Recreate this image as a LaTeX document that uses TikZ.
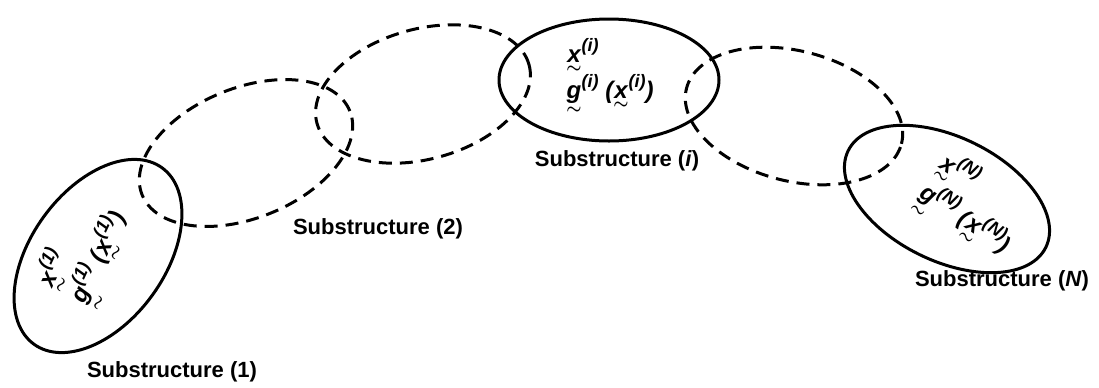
\documentclass[tikz,border=0pt]{standalone}
\usepackage{amsmath}
\usepackage{fontspec}
\setmainfont{Liberation Sans}
\usetikzlibrary{shapes.geometric}

% letter with a small tilde right under it
\newcommand{\ut}[1]{\leavevmode\vtop{\offinterlineskip\halign{\hfil##\hfil\cr #1\cr
    \noalign{\kern2pt}\hbox{$\scriptstyle\boldsymbol{\sim}$}\cr}}}
\newcommand{\up}[1]{\raisebox{0.45em}{\fontsize{9}{9}\selectfont(#1)}}

\begin{document}
\begin{tikzpicture}[
    x=0.5pt,y=-0.5pt,
    ring/.style={ellipse,draw,line width=1.5pt,inner sep=0pt,outer sep=0pt},
    dashring/.style={ring,dash pattern=on 6.5pt off 4pt},
    tag/.style={font=\fontsize{11}{13}\selectfont\bfseries},
    formula/.style={font=\fontsize{12}{17}\selectfont\bfseries\itshape,align=left,inner sep=0pt}
  ]
  \useasboundingbox (0,0) rectangle (1099,387);

  % the chain of substructures
  \node[ring,minimum width=109pt,minimum height=67pt,rotate=54]       (sub1) at (98,256)  {};
  \node[dashring,minimum width=112pt,minimum height=65pt,rotate=22]   (sub2) at (246,153) {};
  \node[dashring,minimum width=110pt,minimum height=65pt,rotate=15.5] (sub3) at (423,94)  {};
  \node[ring,minimum width=110pt,minimum height=61pt]                 (subi) at (609,80)  {};
  \node[dashring,minimum width=111pt,minimum height=65pt,rotate=-14.5] (sub5) at (794,116) {};
  \node[ring,minimum width=110pt,minimum height=62pt,rotate=-26]      (subN) at (947,199) {};

  % what each solid one holds
  \node[formula,rotate=65] (f1) at (85,251)
       {\ut{x}\up{1}\\\ut{g}\up{1} (\ut{x}\up{1})};
  \node[formula] (fi) at (610,76)
       {\ut{x}\up{i}\\\ut{g}\up{i} (\ut{x}\up{i})};
  \node[formula,rotate=-34] (fN) at (973,207)
       {\ut{x}\up{N}\\\ut{g}\up{N} (\ut{x}\up{N})};

  \node[tag] (t1) at (172,372)  {Substructure (1)};
  \node[tag] (t2) at (378,229)  {Substructure (2)};
  \node[tag] (ti) at (617,161)  {Substructure (\textit{i})};
  \node[tag] (tN) at (1002,281) {Substructure (\textit{N})};
\end{tikzpicture}
\end{document}
